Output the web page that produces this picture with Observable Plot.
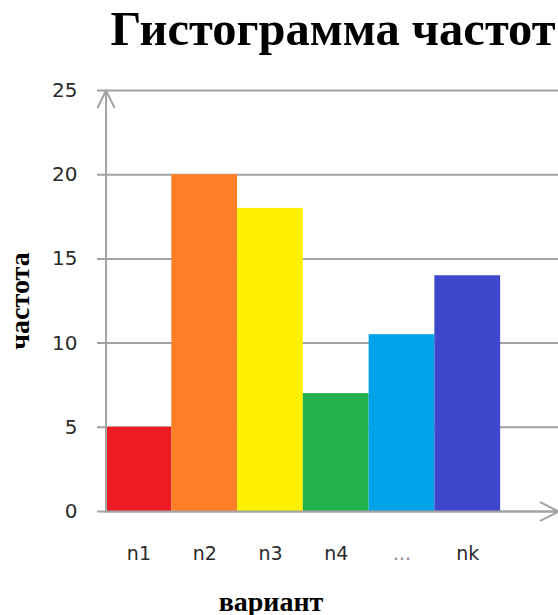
<!DOCTYPE html>
<html>
<head>
<meta charset="utf-8">
<script src="https://cdn.jsdelivr.net/npm/d3@7"></script>
<script src="https://cdn.jsdelivr.net/npm/@observablehq/plot@0.6"></script>
<style>
  html, body { margin: 0; padding: 0; background: #fff; }
</style>
</head>
<body>
<div id="chart"></div>
<script>
// Frequency histogram: one bar per variant
const categories = ["n1", "n2", "n3", "n4", "...", "nk"];
const frequencies = [5, 20, 18, 7, 10.5, 14];
const colors = ["#ed1c24", "#ff7f27", "#fff200", "#22b14c", "#00a2e8", "#3f48cc"];
const yTicks = [0, 5, 10, 15, 20, 25];
const titleText = "Гистограмма частот";
const xLabel = "вариант";
const yLabel = "частота";

const bars = categories.map((name, i) => ({ name, i, value: frequencies[i], color: colors[i] }));

// x runs over bar indices; a little room left of the axis for tick stubs,
// and room on the right for the arrow of the horizontal axis
const xDomain = [-0.13, 6.88];
const yDomain = [0, 25];
const axisGray = "#a3a3a3";
const serif = "'Liberation Serif', 'Times New Roman', serif";
const sans = "'DejaVu Sans', sans-serif";

const chart = Plot.plot({
  width: 558,
  height: 615,
  marginTop: 90,
  marginBottom: 104,
  marginLeft: 97,
  marginRight: 0,
  style: { background: "#fff", fontFamily: sans, color: "#333", overflow: "visible" },
  color: { type: "identity" },
  x: { domain: xDomain, axis: null },
  y: { domain: yDomain, axis: null },
  marks: [
    // horizontal grid lines (they start left of the axis as tick stubs)
    Plot.ruleY(yTicks, { stroke: axisGray, strokeWidth: 2 }),
    // bars
    Plot.rectY(bars, { x1: "i", x2: (d) => d.i + 1, y: "value", fill: "color" }),
    // axes drawn as arrows
    Plot.arrow([{ x1: 0, y1: yDomain[0], x2: 0, y2: yDomain[1] }], {
      x1: "x1", y1: "y1", x2: "x2", y2: "y2",
      stroke: axisGray, strokeWidth: 2, headAngle: 52, headLength: 14
    }),
    Plot.arrow([{ x1: 0, y1: yDomain[0], x2: xDomain[1], y2: yDomain[0] }], {
      x1: "x1", y1: "y1", x2: "x2", y2: "y2",
      stroke: axisGray, strokeWidth: 2, headAngle: 54, headLength: 15
    }),
    // y tick labels
    Plot.axisY(yTicks, {
      anchor: "left", tickSize: 0, tickPadding: 20,
      fontSize: 20, fill: "#2b2b2b", fontFamily: sans
    }),
    // category labels under the bars
    Plot.text(bars, {
      x: (d) => d.i + 0.5, text: "name", frameAnchor: "bottom", dy: 48,
      fontSize: 19, fontFamily: sans,
      fill: (d) => (d.name === "..." ? "#888" : "#2b2b2b")
    }),
    // title
    Plot.text([titleText], {
      text: (d) => d, frameAnchor: "top", lineAnchor: "bottom", dx: 5, dy: -46,
      fontSize: 48.5, fontWeight: "bold", fontFamily: serif, fill: "#000"
    }),
    // axis titles
    Plot.text([yLabel], {
      text: (d) => d, frameAnchor: "left", textAnchor: "middle", lineAnchor: "bottom",
      rotate: -90, dx: -69,
      fontSize: 28, fontWeight: "bold", fontFamily: serif, fill: "#000"
    }),
    Plot.text([xLabel], {
      text: (d) => d, frameAnchor: "bottom", textAnchor: "middle", lineAnchor: "bottom",
      dx: -57, dy: 99,
      fontSize: 28, fontWeight: "bold", fontFamily: serif, fill: "#000"
    })
  ]
});

document.getElementById("chart").append(chart);
</script>
</body>
</html>
